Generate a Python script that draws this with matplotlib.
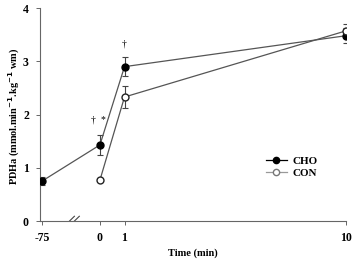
import matplotlib
matplotlib.use("Agg")
import matplotlib.pyplot as plt
from matplotlib.lines import Line2D
import numpy as np

plt.rcParams['font.family'] = ['Liberation Serif', 'DejaVu Serif']

# data
tick_labels = ["-75", "0", "1", "10"]
cho_time = [-75, 0, 1, 10]
cho_val = [0.75, 1.43, 2.90, 3.48]
cho_err = [0.07, 0.18, 0.18, 0.14]
con_time = [0, 1, 10]
con_val = [0.77, 2.33, 3.57]
con_err = [0.0, 0.20, 0.13]


def xpos(t):
    # broken axis: -75 squeezed next to 0
    t = np.asarray(t, dtype=float)
    return np.where(t < 0, -2.36, t)


fig = plt.figure(figsize=(3.56, 2.61), dpi=100)
ax = fig.add_axes([0.1124, 0.153, 0.8596, 0.816])

lc = "#555555"
ax.errorbar(xpos(cho_time), cho_val, yerr=cho_err, color=lc, lw=0.9,
            marker="o", ms=5, mfc="black", mec="black", ecolor="#444444",
            elinewidth=0.8, capsize=2, capthick=0.8, zorder=3)
ax.errorbar(xpos(con_time), con_val, yerr=con_err, color=lc, lw=0.9,
            marker="o", ms=5, mfc="white", mec="#222222", ecolor="#444444",
            elinewidth=0.8, capsize=2, capthick=0.8, zorder=3)

# significance marks
ax.text(-0.28, 1.9, "\u2020", ha="center", va="center", fontsize=7)
ax.text(0.12, 1.9, "*", ha="center", va="center", fontsize=7)
ax.text(1.0, 3.33, "\u2020", ha="center", va="center", fontsize=7)

ax.set_xlim(-2.44, 10.02)
ax.set_ylim(0, 4)
ax.set_xticks(xpos(cho_time))
ax.set_xticklabels(tick_labels)
ax.set_yticks([0, 1, 2, 3, 4])
ax.spines["top"].set_visible(False)
ax.spines["right"].set_visible(False)
for s in ["left", "bottom"]:
    ax.spines[s].set_color("#666666")
    ax.spines[s].set_linewidth(0.8)
ax.tick_params(direction="out", length=3, width=0.7, colors="#666666",
               labelcolor="black", labelsize=8.5)
ax.tick_params(axis="x", pad=5)
ax.tick_params(axis="y", pad=5)
for lab in ax.get_xticklabels() + ax.get_yticklabels():
    lab.set_fontweight("bold")

# axis break
for x0 in (-1.24, -1.04):
    ax.plot([x0, x0 + 0.2], [0.0, 0.09], color="#444444", lw=0.8,
            clip_on=False)

ax.set_xlabel("Time (min)", fontsize=7.5, fontweight="bold", labelpad=3)
ax.set_ylabel("PDHa (mmol.min$^{\\mathbf{-1}}$.kg$^{\\mathbf{-1}}$ wm)",
              fontsize=7.4, fontweight="bold")
ax.yaxis.set_label_coords(-0.06, 0.49)

handles = [Line2D([], [], color="black", lw=0.9, marker="o", ms=4.5,
                  mfc="black", mec="black"),
           Line2D([], [], color="#999999", lw=0.9, marker="o", ms=4.5,
                  mfc="white", mec="#777777")]
leg = ax.legend(handles, ["CHO", "CON"], loc="upper left",
                bbox_to_anchor=(0.72, 0.33), frameon=False,
                fontsize=8, handlelength=1.9, handletextpad=0.5,
                labelspacing=0.15, borderpad=0)
for t in leg.get_texts():
    t.set_fontweight("bold")

fig.savefig("out.png", dpi=100)
